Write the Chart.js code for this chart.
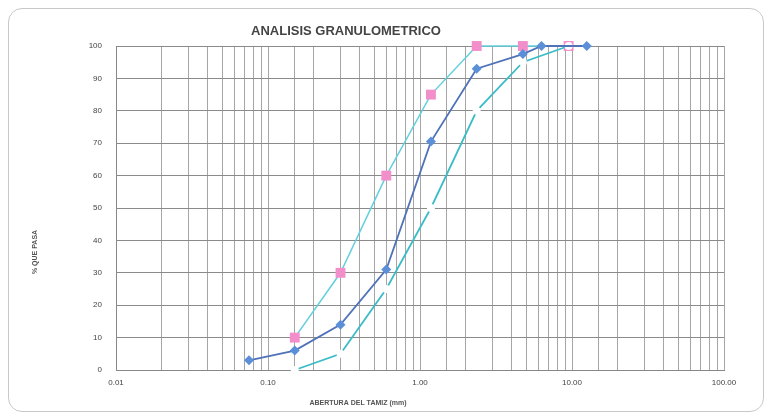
<!DOCTYPE html>
<html>
<head>
<meta charset="utf-8">
<script src="https://cdn.jsdelivr.net/npm/chart.js@4/dist/chart.umd.min.js"></script>
<style>
  html, body { margin: 0; padding: 0; background: #fff; }
  #wrap { position: relative; width: 771px; height: 416px; }
  #frame { position: absolute; left: 8px; top: 8px; width: 754px; height: 402px; border: 1px solid #c8c8c8; border-radius: 14px; }
  canvas { position: absolute; left: 0; top: 0; }
</style>
</head>
<body>
<div id="wrap">
  <div id="frame"></div>
  <canvas id="myChart" width="771" height="416"></canvas>
</div>
<script>
// abertura del tamiz (mm)
const sieveSizes = [0.075, 0.15, 0.30, 0.60, 1.18, 2.36, 4.75, 6.3, 12.5]
const samplePass = [3, 6, 14, 31, 70.5, 93, 97.5, 100, 100]

const limitSizes = [0.15, 0.30, 0.60, 1.18, 2.36, 4.75, 9.5]
const upperLimit = [10, 30, 60, 85, 100, 100, 100]
const lowerLimit = [0, 5, 25, 50, 80, 95, 100]

const xTickLabels = ["0.01", "0.10", "1.00", "10.00", "100.00"]
const yTicks = [0, 10, 20, 30, 40, 50, 60, 70, 80, 90, 100]

function toPoints(xs, ys) {
    return xs.map((x, i) => ({ x: x, y: ys[i] }))
}

const textPlugin = {
    id: "textPlugin",
    afterDraw(chart) {
        const ctx = chart.ctx
        ctx.save()
        ctx.fillStyle = "#444"
        ctx.textAlign = "center"
        ctx.textBaseline = "middle"
        ctx.font = "bold 13px 'Liberation Sans', Arial, sans-serif"
        ctx.fillText("ANALISIS GRANULOMETRICO", 346, 31)
        ctx.font = "bold 7px 'Liberation Sans', Arial, sans-serif"
        ctx.fillStyle = "#555"
        ctx.fillText("ABERTURA DEL TAMIZ (mm)", 358, 403)
        ctx.translate(35, 252)
        ctx.rotate(-Math.PI / 2)
        ctx.fillText("% QUE PASA", 0, 0)
        ctx.restore()
    }
}

new Chart(document.getElementById("myChart"), {
    type: "line",
    data: {
        datasets: [{
            label: "Muestra",
            data: toPoints(sieveSizes, samplePass),
            borderColor: "#4f72b8",
            backgroundColor: "#5b8fd8",
            borderWidth: 1.8,
            pointStyle: "rectRot",
            pointRadius: 5,
            pointBorderWidth: 0,
            clip: false,
            order: 1
        }, {
            label: "Limite superior",
            data: toPoints(limitSizes, upperLimit),
            borderColor: "#63d0dd",
            backgroundColor: "#f28fcb",
            borderWidth: 1.5,
            pointStyle: "rect",
            pointRadius: 7,
            pointBorderWidth: 0,
            clip: false,
            order: 3
        }, {
            label: "Limite inferior",
            data: toPoints(limitSizes, lowerLimit),
            borderColor: "#3cbcc6",
            backgroundColor: "#ffffff",
            borderWidth: 1.8,
            pointStyle: "circle",
            pointRadius: 4,
            pointBorderWidth: 0,
            clip: false,
            order: 2
        }]
    },
    options: {
        responsive: false,
        animation: false,
        layout: { padding: { top: 46, right: 47, left: 0, bottom: 0 } },
        plugins: {
            legend: { display: false },
            tooltip: { enabled: false }
        },
        scales: {
            x: {
                type: "logarithmic",
                min: 0.01,
                max: 100,
                afterFit: (scale) => { scale.height = 46 },
                border: { color: "#888", width: 1 },
                grid: { color: "#a5a5a5", lineWidth: 1, drawTicks: false },
                ticks: {
                    autoSkip: false,
                    maxRotation: 0,
                    padding: 8,
                    color: "#444",
                    font: { size: 8, family: "'Liberation Sans', Arial, sans-serif" },
                    callback: (value) => {
                        const e = Math.log10(value)
                        if (Math.abs(e - Math.round(e)) < 1e-9) return xTickLabels[Math.round(e) + 2]
                        return ""
                    }
                }
            },
            y: {
                min: 0,
                max: 100,
                afterFit: (scale) => { scale.width = 116 },
                afterBuildTicks: (scale) => { scale.ticks = yTicks.map(v => ({ value: v })) },
                border: { color: "#888", width: 1 },
                grid: { color: "#8a8a8a", lineWidth: 1, drawTicks: false },
                ticks: {
                    padding: 14,
                    color: "#444",
                    font: { size: 8, family: "'Liberation Sans', Arial, sans-serif" }
                }
            }
        }
    },
    plugins: [textPlugin]
})
</script>
</body>
</html>
